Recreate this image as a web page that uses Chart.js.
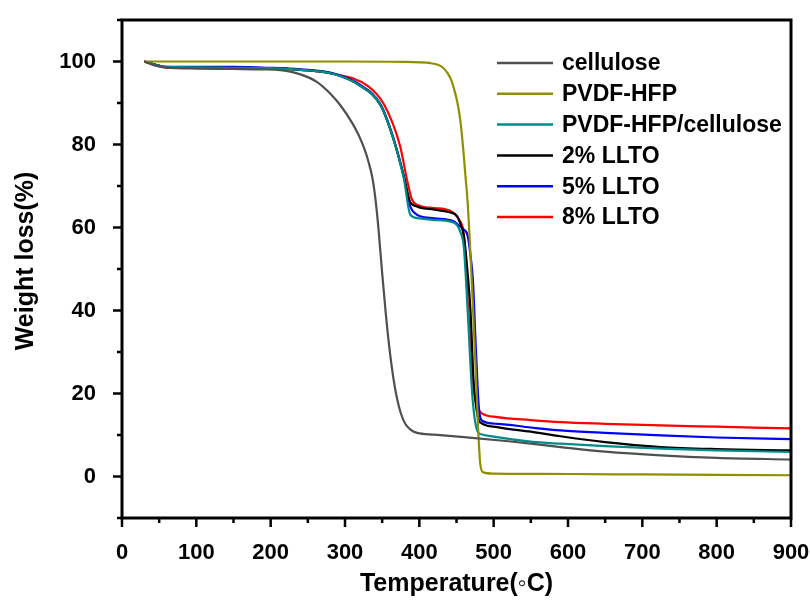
<!DOCTYPE html>
<html>
<head>
<meta charset="utf-8">
<script src="https://cdn.jsdelivr.net/npm/chart.js@4.4.1/dist/chart.umd.min.js"></script>
<style>
    html, body { margin: 0; padding: 0; background: #fff; }
    #contenedor { width: 810px; height: 601px; }
</style>
</head>
<body>
<div id="contenedor"><canvas id="graficoTGA"></canvas></div>
<script>
const nombresSeries = ['cellulose', 'PVDF-HFP', 'PVDF-HFP/cellulose', '2% LLTO', '5% LLTO', '8% LLTO'];
const coloresSeries = ['#505050', '#8f8f00', '#008b8b', '#000000', '#0000ff', '#ff0000'];

const tempCelulosa = [30, 45, 60, 100, 150, 190, 213, 240, 262, 280, 294, 309, 318, 326, 332, 337, 341, 345, 350, 355, 360, 365, 370, 375, 381, 388, 397, 420, 460, 520, 590, 650, 725, 800, 900];
const pesoCelulosa = [100, 99.0, 98.5, 98.3, 98.2, 98.1, 97.9, 96.9, 95.1, 92.3, 89.4, 85.4, 82.4, 79.0, 75.6, 71.8, 66.8, 59.8, 49.0, 39.0, 30.5, 23.8, 18.8, 15.3, 12.7, 11.3, 10.5, 10.1, 9.5, 8.5, 7.1, 6.0, 5.1, 4.5, 4.1];

const tempPvdf = [30, 100, 200, 300, 380, 400, 415, 425, 432, 438, 443, 447, 451, 455, 459, 462, 465, 471.6, 476, 479, 482, 486, 500, 600, 700, 800, 900];
const pesoPvdf = [100, 100, 100, 100, 99.9, 99.8, 99.6, 99.2, 98.5, 97.2, 95.5, 93.2, 90.3, 86.0, 79.0, 72.5, 66.0, 43.0, 25.0, 12.0, 3.0, 1.0, 0.7, 0.6, 0.5, 0.4, 0.3];

const tempPvdfCel = [30, 45, 60, 100, 150, 195, 240, 285, 320, 348, 365, 379, 388, 400, 420, 446, 455, 460, 465, 471.5, 478, 483, 500, 550, 590, 650, 725, 800, 900];
const pesoPvdfCel = [100, 99.2, 98.7, 98.6, 98.5, 98.4, 98.0, 97.0, 94.2, 89.4, 81.4, 72.0, 63.0, 62.2, 61.8, 61.2, 59.0, 55.0, 40.0, 19.0, 11.0, 10.2, 9.6, 8.4, 7.9, 7.3, 6.7, 6.3, 5.9];

const temp2 = [30, 45, 60, 100, 150, 195, 240, 285, 320, 348, 365, 379, 388, 395, 401, 420, 442, 451, 456, 460, 465, 469, 473, 477, 480, 484, 505, 550, 590, 650, 725, 800, 900];
const peso2 = [100, 99.2, 98.6, 98.5, 98.5, 98.4, 98.0, 97.0, 94.2, 89.4, 81.4, 72.4, 66.0, 65.2, 64.8, 64.3, 63.6, 62.7, 60.5, 57.9, 49.0, 39.4, 23.0, 16.0, 13.6, 12.8, 11.9, 10.8, 9.7, 8.3, 7.1, 6.6, 6.3];

const temp5 = [30, 45, 60, 100, 150, 195, 240, 285, 320, 348, 365, 379, 388, 395, 401, 420, 446, 453, 460, 465, 469, 472, 476, 480, 484, 505, 550, 590, 650, 725, 800, 900];
const peso5 = [100, 99.2, 98.7, 98.7, 98.7, 98.5, 98.1, 97.1, 94.4, 89.6, 81.6, 72.4, 65.0, 63.3, 62.7, 62.2, 61.5, 60.5, 59.5, 58.0, 53.0, 47.5, 31.0, 16.8, 13.5, 12.7, 11.8, 11.1, 10.5, 9.9, 9.4, 9.0];

const temp8 = [30, 45, 60, 100, 150, 195, 240, 285, 330, 352, 374, 384, 390, 401, 420, 442, 453, 460, 466, 471, 474, 477, 480, 484, 505, 550, 590, 650, 725, 800, 900];
const peso8 = [100, 99.2, 98.6, 98.6, 98.5, 98.4, 98.0, 97.0, 94.2, 89.8, 79.7, 71.0, 66.8, 65.2, 64.7, 64.0, 62.0, 58.0, 39.4, 25.0, 20.0, 17.5, 16.0, 15.2, 14.3, 13.6, 13.1, 12.7, 12.3, 12.0, 11.6];

const ticksX = [0, 100, 200, 300, 400, 500, 600, 700, 800, 900];
const ticksY = [0, 20, 40, 60, 80, 100];

const tituloX = 'Temperature(\u25E6C)';
const tituloY = 'Weight loss(%)';

const series = [
    [tempCelulosa, pesoCelulosa],
    [tempPvdf, pesoPvdf],
    [tempPvdfCel, pesoPvdfCel],
    [temp2, peso2],
    [temp5, peso5],
    [temp8, peso8]
];

const fuente = '"Liberation Sans", Arial, sans-serif';

// Marco, marcas de ejes, titulos y leyenda
const pluginMarco = {
    id: 'pluginMarco',
    afterDraw(chart) {
        const ctx = chart.ctx;
        const area = chart.chartArea;
        const sx = chart.scales.x;
        const sy = chart.scales.y;
        ctx.save();
        ctx.strokeStyle = '#000';
        ctx.lineWidth = 3;
        ctx.strokeRect(area.left, area.top, area.right - area.left, area.bottom - area.top);

        ctx.lineWidth = 2.5;
        ctx.beginPath();
        for (let v = 0; v <= 900; v += 50) {
            const px = sx.getPixelForValue(v);
            const largo = v % 100 === 0 ? 9 : 5;
            ctx.moveTo(px, area.bottom);
            ctx.lineTo(px, area.bottom + largo);
        }
        for (let v = -10; v <= 110; v += 10) {
            const py = sy.getPixelForValue(v);
            const largo = v % 20 === 0 ? 9 : 5;
            ctx.moveTo(area.left, py);
            ctx.lineTo(area.left - largo, py);
        }
        ctx.stroke();

        // titulos de ejes
        ctx.fillStyle = '#000';
        ctx.font = 'bold 25px ' + fuente;
        ctx.textAlign = 'center';
        ctx.textBaseline = 'middle';
        ctx.fillText(tituloX, (area.left + area.right) / 2, 584);
        ctx.translate(26, 261);
        ctx.rotate(-Math.PI / 2);
        ctx.fillText(tituloY, 0, 0);
        ctx.setTransform(1, 0, 0, 1, 0, 0);

        // leyenda
        ctx.font = 'bold 23px ' + fuente;
        ctx.textAlign = 'left';
        ctx.lineWidth = 2.5;
        nombresSeries.forEach((nombre, i) => {
            const y = 63 + i * 30.8;
            ctx.strokeStyle = coloresSeries[i];
            ctx.beginPath();
            ctx.moveTo(497, y);
            ctx.lineTo(553, y);
            ctx.stroke();
            ctx.fillStyle = '#000';
            ctx.fillText(nombre, 562, y + 1);
        });
        ctx.restore();
    }
};

const ctx = document.getElementById('graficoTGA').getContext('2d');
const graficoTGA = new Chart(ctx, {
    type: 'line',
    data: {
        datasets: series.map((s, i) => ({
            label: nombresSeries[i],
            data: s[0].map((t, k) => ({ x: t, y: s[1][k] })),
            borderColor: coloresSeries[i],
            borderWidth: 2.2,
            pointRadius: 0,
            fill: false,
            cubicInterpolationMode: 'monotone'
        }))
    },
    options: {
        responsive: true,
        maintainAspectRatio: false,
        animation: false,
        layout: { padding: { left: 0, top: 20, right: 19, bottom: 0 } },
        scales: {
            x: {
                type: 'linear',
                min: 0,
                max: 900,
                afterBuildTicks: axis => { axis.ticks = ticksX.map(v => ({ value: v })); },
                afterFit: axis => {
                    axis.height = 83;
                    axis.paddingLeft = 0;
                    axis.paddingRight = 0;
                },
                grid: { display: false },
                border: { display: false },
                ticks: {
                    color: '#000',
                    font: { family: fuente, size: 22, weight: 'bold' },
                    padding: 14,
                    maxRotation: 0
                }
            },
            y: {
                type: 'linear',
                min: -10,
                max: 110,
                afterBuildTicks: axis => { axis.ticks = ticksY.map(v => ({ value: v })); },
                afterFit: axis => {
                    axis.width = 122;
                    axis.paddingTop = 0;
                    axis.paddingBottom = 0;
                },
                grid: { display: false },
                border: { display: false },
                ticks: {
                    color: '#000',
                    font: { family: fuente, size: 22, weight: 'bold' },
                    padding: 18
                }
            }
        },
        plugins: {
            legend: { display: false },
            tooltip: { enabled: false }
        }
    },
    plugins: [pluginMarco]
});
</script>
</body>
</html>
